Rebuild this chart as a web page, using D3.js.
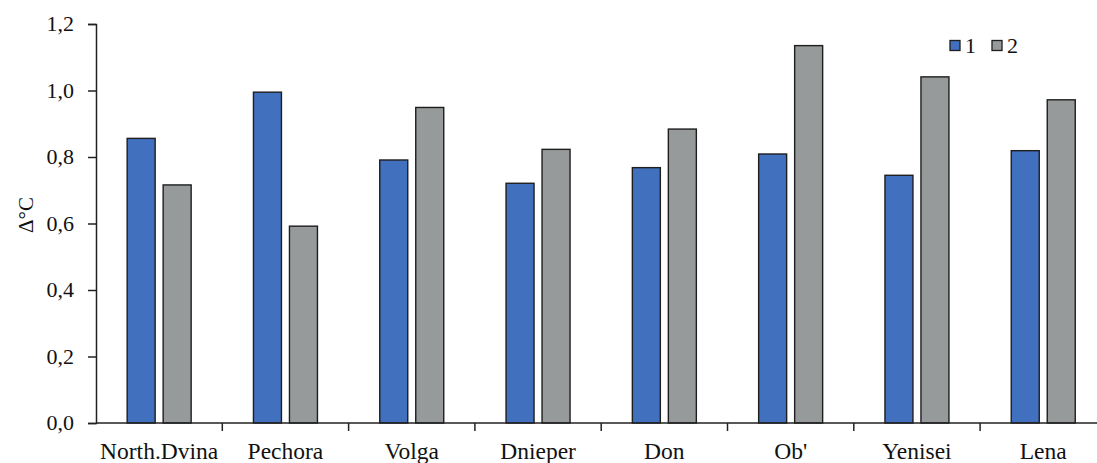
<!DOCTYPE html>
<html>
<head>
<meta charset="utf-8">
<script src="https://cdn.jsdelivr.net/npm/d3@7"></script>
<style>
  html, body { margin: 0; padding: 0; background: #fff; }
  svg { display: block; }
  svg text { font-family: "Liberation Serif", "Times New Roman", serif; fill: #111; }
</style>
</head>
<body>
<svg id="chart" width="1097" height="463"></svg>
<script>
// Rivers and the warming values for the two series
const rivers = ["North.Dvina", "Pechora", "Volga", "Dnieper", "Don", "Ob'", "Yenisei", "Lena"];
const seriesNames = ["1", "2"];
const series1 = [0.856, 0.995, 0.791, 0.721, 0.768, 0.809, 0.745, 0.819];
const series2 = [0.716, 0.592, 0.949, 0.823, 0.884, 1.135, 1.041, 0.972];
const yTicks = [0, 0.2, 0.4, 0.6, 0.8, 1.0, 1.2];
const yLabel = "Δ°C";

const colors = { "1": "#4170be", "2": "#979a9a" };
const stroke = "#1e1e1e";
const serif = "'Liberation Serif', 'Times New Roman', serif";

const svg = d3.select("#chart");
const plotLeft = 96, plotTop = 24, plotBottom = 423;
const step = 126.3;

const x = d3.scaleBand()
  .domain(rivers)
  .range([plotLeft, plotLeft + step * rivers.length])
  .paddingInner(0).paddingOuter(0);

const y = d3.scaleLinear().domain([0, 1.2]).range([plotBottom, plotTop]);

const rows = rivers.map((r, i) => ({ river: r, values: [series1[i], series2[i]] }));

// Bars
const groups = svg.append("g").selectAll("g")
  .data(rows).join("g")
  .attr("transform", d => `translate(${x(d.river) + x.bandwidth() / 2},0)`);

const inner = d3.scaleBand().domain(seriesNames).range([-32, 32]).paddingInner(8 / 36).paddingOuter(0);

groups.selectAll("rect")
  .data(d => d.values.map((v, k) => ({ key: seriesNames[k], v })))
  .join("rect")
  .attr("x", d => inner(d.key))
  .attr("width", inner.bandwidth())
  .attr("y", d => y(d.v))
  .attr("height", d => y(0) - y(d.v))
  .attr("fill", d => colors[d.key])
  .attr("stroke", stroke)
  .attr("stroke-width", 1.4);

// Y axis
const yAxis = svg.append("g")
  .attr("transform", `translate(${plotLeft},0)`)
  .call(d3.axisLeft(y).tickValues(yTicks).tickSize(8).tickPadding(14)
    .tickFormat(d => d3.format(".1f")(d).replace(".", ",")));
yAxis.attr("font-family", serif).attr("font-size", 22);
yAxis.select(".domain").attr("stroke", "#222").attr("stroke-width", 1.5);
yAxis.selectAll(".tick line").attr("stroke", "#222").attr("stroke-width", 1.5);
yAxis.selectAll(".tick text").attr("fill", "#111").attr("dy", "0.3em");

// X axis: ticks at category boundaries
const xAxisG = svg.append("g").attr("transform", `translate(0,${plotBottom})`);
xAxisG.append("line")
  .attr("x1", plotLeft).attr("x2", plotLeft + step * rivers.length)
  .attr("stroke", "#222").attr("stroke-width", 1.5);
xAxisG.selectAll("line.tick")
  .data(rivers.slice(1)).join("line")
  .attr("class", "tick")
  .attr("x1", d => x(d)).attr("x2", d => x(d))
  .attr("y1", 0).attr("y2", 8)
  .attr("stroke", "#222").attr("stroke-width", 1.5);
xAxisG.selectAll("text")
  .data(rivers).join("text")
  .attr("x", d => x(d) + x.bandwidth() / 2)
  .attr("y", 36)
  .attr("text-anchor", "middle")
  .attr("font-size", 23.5)
  .text(d => d);

// Y axis title
svg.append("text")
  .attr("transform", "translate(33,215) rotate(-90)")
  .attr("text-anchor", "middle")
  .attr("font-size", 21)
  .text(yLabel);

// Legend
const legend = svg.append("g").attr("transform", "translate(950,40.5)");
const li = legend.selectAll("g").data(seriesNames).join("g")
  .attr("transform", (d, i) => `translate(${i * 42},0)`);
li.append("rect").attr("width", 10).attr("height", 10)
  .attr("fill", d => colors[d]).attr("stroke", stroke).attr("stroke-width", 1.3);
li.append("text")
  .attr("x", 15).attr("y", 12.5)
  .attr("font-size", 22)
  .text(d => d);
</script>
</body>
</html>
